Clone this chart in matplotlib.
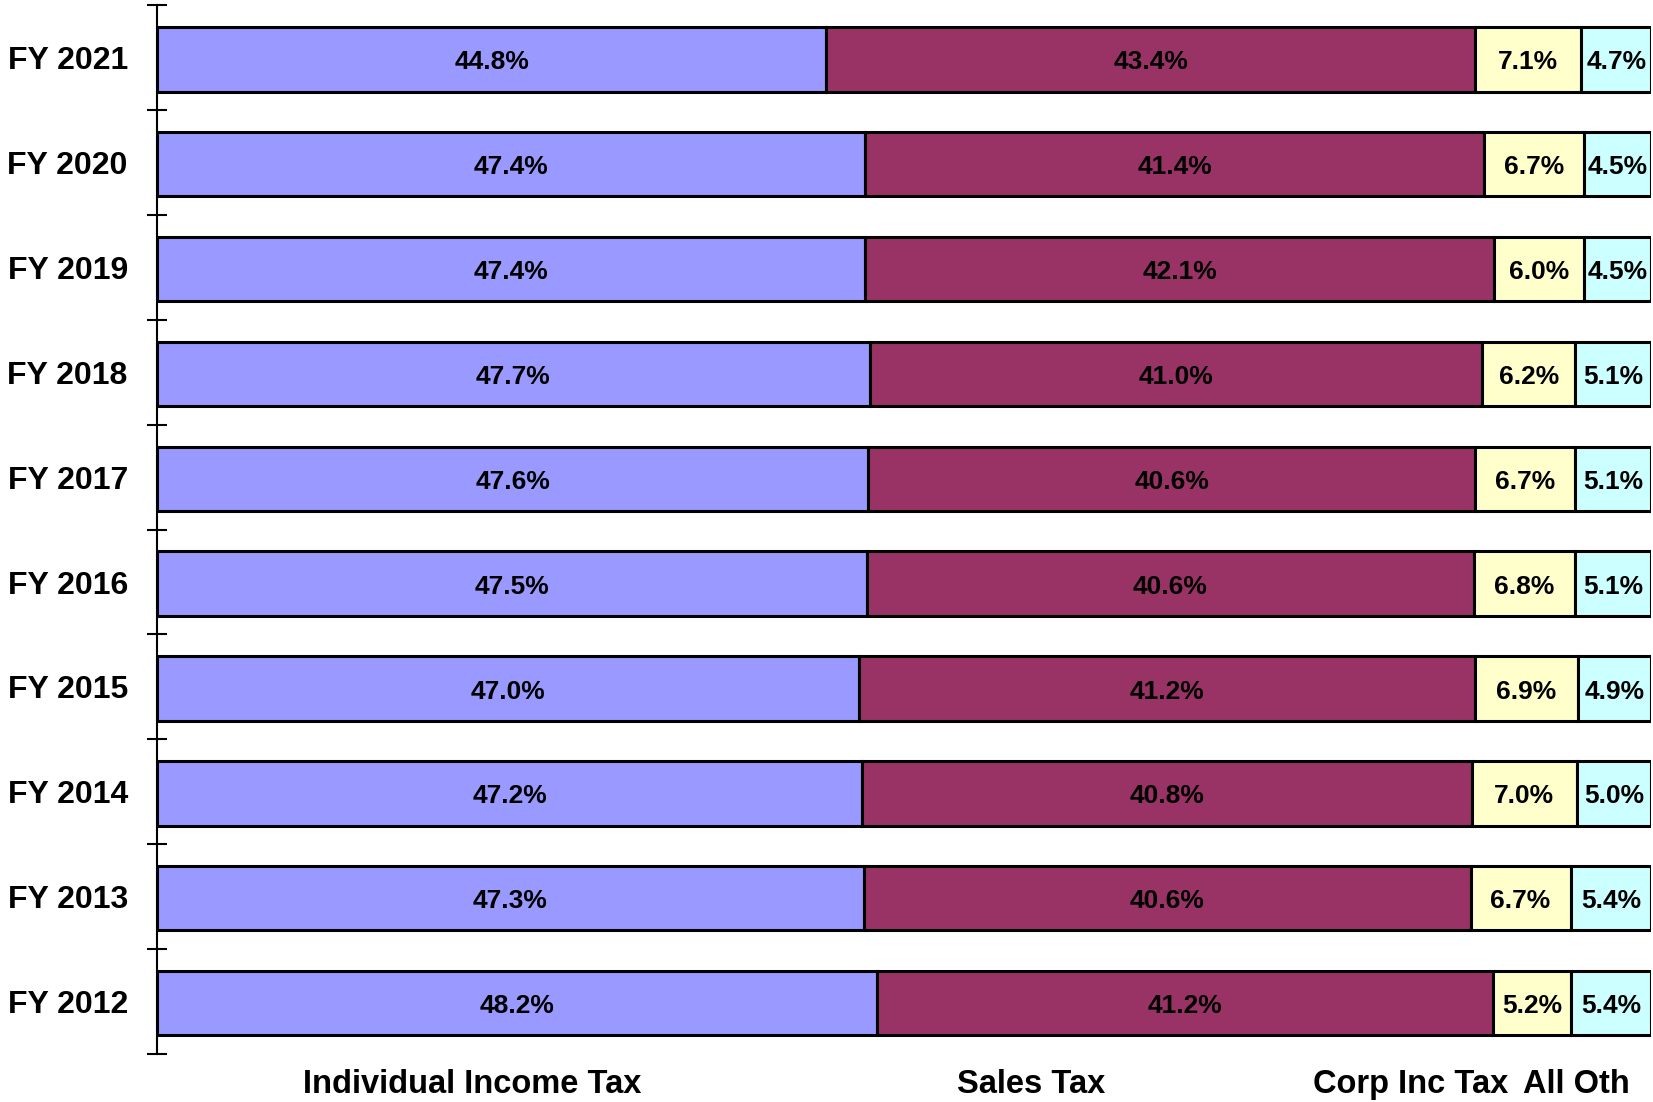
import matplotlib
matplotlib.use("Agg")
import matplotlib.pyplot as plt
import numpy as np

years = ["FY 2012", "FY 2013", "FY 2014", "FY 2015", "FY 2016",
         "FY 2017", "FY 2018", "FY 2019", "FY 2020", "FY 2021"]
individual = [48.2, 47.3, 47.2, 47.0, 47.5, 47.6, 47.7, 47.4, 47.4, 44.8]
sales = [41.2, 40.6, 40.8, 41.2, 40.6, 40.6, 41.0, 42.1, 41.4, 43.4]
corp = [5.2, 6.7, 7.0, 6.9, 6.8, 6.7, 6.2, 6.0, 6.7, 7.1]
other = [5.4, 5.4, 5.0, 4.9, 5.1, 5.1, 5.1, 4.5, 4.5, 4.7]

series_names = ["Individual Income Tax", "Sales Tax", "Corp Inc Tax", "All Oth"]
series_colors = ["#9999FF", "#993366", "#FFFFCC", "#CCFFFF"]
name_x = [21.1, 58.5, 83.9, 95.0]

plt.rcParams["font.family"] = ["Liberation Sans", "DejaVu Sans"]
plt.rcParams["font.weight"] = "bold"

fig = plt.figure(figsize=(16.53, 11.02), dpi=100)
ax = fig.add_axes([0.095, 0.0436, 0.904, 0.9516])

y = np.arange(len(years))
left = np.zeros(len(years))
for vals, col in zip([individual, sales, corp, other], series_colors):
    vals = np.array(vals)
    ax.barh(y - 0.015, vals, left=left, height=0.615, color=col,
            edgecolor="black", linewidth=2.2)
    for yi, l, v in zip(y, left, vals):
        ax.text(l + v / 2, yi - 0.02, f"{v:.1f}%", ha="center",
                va="center_baseline", fontsize=19, fontweight="bold")
    left = left + vals

ax.set_xlim(0, 100)
ax.set_ylim(-0.5, len(years) - 0.5)

for s in ["top", "right", "bottom"]:
    ax.spines[s].set_visible(False)
ax.spines["left"].set_linewidth(1.5)
ax.set_xticks([])

ax.set_yticks(y)
ax.set_yticklabels(years, fontsize=23, fontweight="bold")
ax.tick_params(axis="y", which="major", length=0, pad=21)
ax.set_yticks(np.arange(len(years) + 1) - 0.5, minor=True)
ax.tick_params(axis="y", which="minor", direction="inout", length=15, width=1.5)

for nm, xv in zip(series_names, name_x):
    ax.text(xv, -0.037, nm, transform=ax.get_xaxis_transform(),
            ha="center", va="baseline", fontsize=23.5, fontweight="bold")

fig.savefig("out.png", dpi=100)
